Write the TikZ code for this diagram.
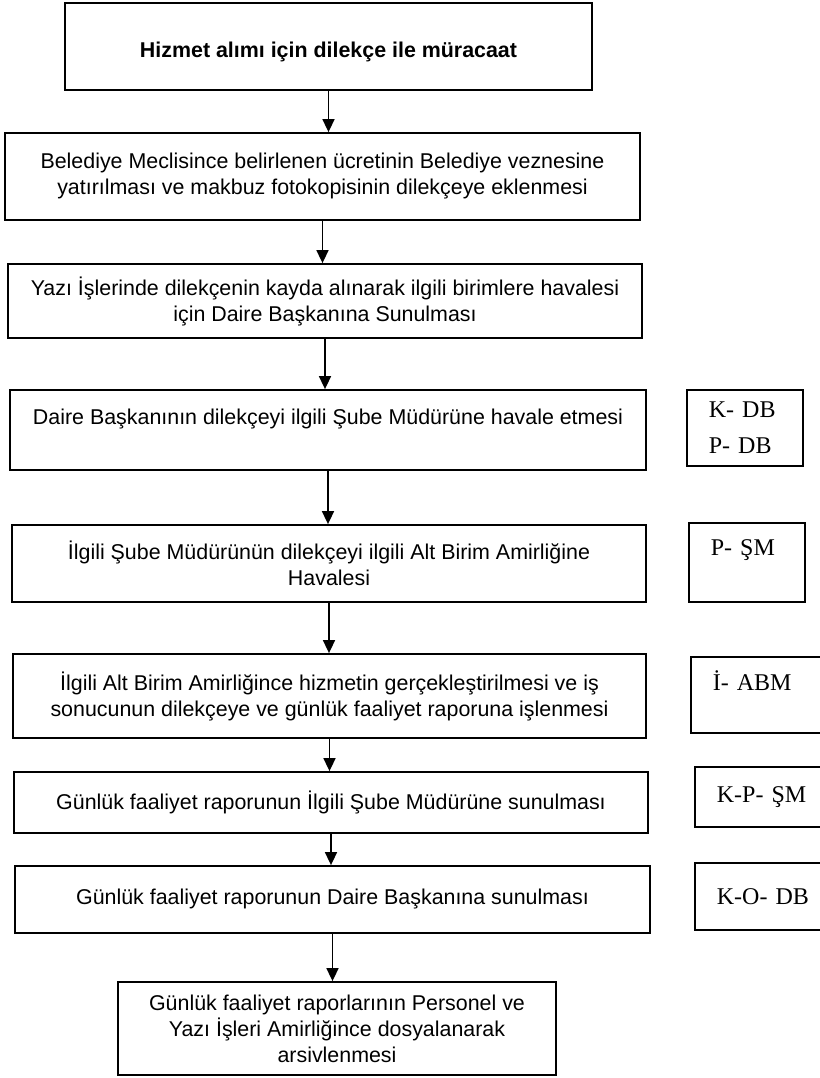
\documentclass[tikz,border=0pt]{standalone}
\usepackage{fontspec}
\setmainfont{Liberation Sans}
\newfontfamily\serifkod{Liberation Serif}
\usetikzlibrary{positioning}
\usetikzlibrary{arrows.meta}
\tikzset{
	adim/.style={
		draw,
		rectangle,
		align=center,
		line width=.9pt,
		font=\fontsize{10.7}{13}\selectfont
	},
	kod/.style={
		draw,
		rectangle,
		align=left,
		anchor=west,
		line width=.9pt,
		inner xsep=11pt,
		font=\serifkod\fontsize{12}{14.5}\selectfont
	},
	>={Triangle[length=6.5pt,width=6pt]}
}

\begin{document}
\begin{tikzpicture}[x=1pt,y=-1pt]
	\useasboundingbox (0,0) rectangle (410,539);
	\clip (0,0) rectangle (410,539);
	\node[adim, minimum width=263.5pt, minimum height=43.5pt, font=\bfseries\fontsize{10.7}{13}\selectfont] (Basvuru) at (164.25,23.25){~\\ Hizmet alımı için dilekçe ile müracaat};
	\node[adim, minimum width=317.5pt, minimum height=43.5pt] (Ucret) at (161.25,88.25){Belediye Meclisince belirlenen ücretinin Belediye veznesine\\ yatırılması ve makbuz fotokopisinin dilekçeye eklenmesi};
	\node[adim, minimum width=317pt, minimum height=37pt] (Kayit) at (162.5,150.5){Yazı İşlerinde dilekçenin kayda alınarak ilgili birimlere havalesi\\ için Daire Başkanına Sunulması};
	\node[adim, minimum width=318pt, minimum height=40pt] (Havale) at (164,215){Daire Başkanının dilekçeyi ilgili Şube Müdürüne havale etmesi\\ ~};
	\node[adim, minimum width=317pt, minimum height=38.5pt] (SubeHavale) at (164.5,281.75){İlgili Şube Müdürünün dilekçeyi ilgili Alt Birim Amirliğine\\ Havalesi};
	\node[adim, minimum width=316.5pt, minimum height=42pt] (Hizmet) at (164.75,348){İlgili Alt Birim Amirliğince hizmetin gerçekleştirilmesi ve iş\\ sonucunun dilekçeye ve günlük faaliyet raporuna işlenmesi};
	\node[adim, minimum width=317pt, minimum height=30.5pt] (SubeRapor) at (165.5,401.25){Günlük faaliyet raporunun İlgili Şube Müdürüne sunulması};
	\node[adim, minimum width=317.5pt, minimum height=33.5pt] (DaireRapor) at (166.25,449.75){Günlük faaliyet raporunun Daire Başkanına sunulması};
	\node[adim, minimum width=219pt, minimum height=46.5pt] (Arsiv) at (168.5,514.25){Günlük faaliyet raporlarının Personel ve\\ Yazı İşleri Amirliğince dosyalanarak\\ arsivlenmesi};

	% sorumlu birim kodlari
	\node[kod, text width=36pt, minimum height=38pt] (KDB) at (343,214){K- DB\\[3.5pt] P- DB};
	\node[kod, text width=36pt, minimum height=39.5pt] (PSM) at (344,281.25){P- ŞM\\ ~};
	\node[kod, text width=60pt, minimum height=38pt] (IABM) at (345,347.5){İ- ABM\\ ~};
	\node[kod, text width=60pt, minimum height=30pt] (KPSM) at (347,398.5){K-P- ŞM};
	\node[kod, text width=60pt, minimum height=33.5pt] (KODB) at (347,448.25){K-O- DB};

	\draw[->, line width=.8pt] (Basvuru.south) -- (Basvuru.south |- Ucret.north);
	\draw[->, line width=.8pt] (Ucret.south) -- (Ucret.south |- Kayit.north);
	\draw[->, line width=.8pt] (Kayit.south) -- (Kayit.south |- Havale.north);
	\draw[->, line width=.8pt] (Havale.south) -- (Havale.south |- SubeHavale.north);
	\draw[->, line width=.8pt] (SubeHavale.south) -- (SubeHavale.south |- Hizmet.north);
	\draw[->, line width=.8pt] (Hizmet.south) -- (Hizmet.south |- SubeRapor.north);
	\draw[->, line width=.8pt] (SubeRapor.south) -- (SubeRapor.south |- DaireRapor.north);
	\draw[->, line width=.8pt] (DaireRapor.south) -- (DaireRapor.south |- Arsiv.north);
\end{tikzpicture}
\end{document}
